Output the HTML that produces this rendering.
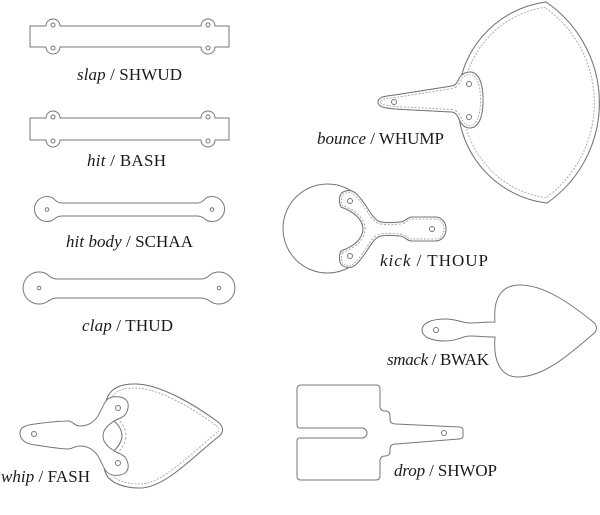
<!DOCTYPE html>
<html><head><meta charset="utf-8"><style>
html,body{margin:0;padding:0;background:#fff;}
svg{display:block;}
text{font-family:"Liberation Serif",serif;font-size:17px;fill:#1a1a1a;}
.i{font-style:italic;}
</style></head><body>
<svg width="600" height="515" viewBox="0 0 600 515" xmlns="http://www.w3.org/2000/svg" xmlns:xlink="http://www.w3.org/1999/xlink">
<defs>
<path id="fan" d="M546,2 A122,122 0 0 1 547,203 A101.3,101.3 0 0 1 546,2 Z"/>
<path id="bh" d="M378,102 C378,97 385,96 395,95 L452,86 C457,85 458,80 460,77 C462,74 466,72 470,72 C477,72 483,80 483,100 C483,120 477,128 470,128 C465,128 462,125 460,121 C458,117 457,113 452,112 L395,109 C385,108 378,107 378,102 Z"/>
<path id="kf" d="M341,207 C339,203 339,197 341,194 C343,191 348,190 352,191 C357,193 360,198 364,203 C369,210 372,217 378,221 C382,223 390,223 400,222 C405,222 406,218 412,217 L435,217 C442,217 446,223 446,229 C446,235 442,241 435,241 L412,241 C406,241 405,236 400,236 C390,235 382,235 378,237 C372,241 369,248 364,255 C360,260 357,265 352,267 C348,268 343,267 341,264 C339,261 339,255 341,251 C355,246 363,238 363,229 C363,220 355,212 341,207 Z"/>
<path id="wh" d="M113,420 C106,412 104,404 108,396 C113,387 122,384 135,384 C160,384 195,405 218,422 C224,427 224,433 218,437 C195,455 165,488 140,488 C122,488 110,482 106,474 C102,466 106,458 113,452 C119,446 122,440 122,436 C122,430 119,425 113,420 Z"/>
<clipPath id="cfan"><use href="#fan" xlink:href="#fan"/></clipPath>
<clipPath id="cbh"><use href="#bh" xlink:href="#bh"/></clipPath>
<clipPath id="ckf"><use href="#kf" xlink:href="#kf"/></clipPath>
<clipPath id="cwh"><use href="#wh" xlink:href="#wh"/></clipPath>
</defs>

<g fill="#fff" stroke="#777" stroke-width="1" stroke-linejoin="round">
<!-- slap -->
<path d="M30,26 H46 A7,7 0 0 1 60,26 H201 A7,7 0 0 1 215,26 H229 V47 H215 A7,7 0 0 1 201,47 H60 A7,7 0 0 1 46,47 H30 Z"/>
<circle cx="53" cy="25" r="2"/><circle cx="53" cy="48" r="2"/><circle cx="208" cy="25" r="2"/><circle cx="208" cy="48" r="2"/>
<!-- hit -->
<path d="M30,118 H46 A7,7 0 0 1 60,118 H201 A7,7 0 0 1 215,118 H229 V140 H215 A7,7 0 0 1 201,140 H60 A7,7 0 0 1 46,140 H30 Z"/>
<circle cx="53" cy="117" r="2"/><circle cx="53" cy="141" r="2"/><circle cx="208" cy="117" r="2"/><circle cx="208" cy="141" r="2"/>
<!-- hit body -->
<path d="M62,203 H197 Q202,203 205.75,198.2 A12.5,12.5 0 1 1 205.75,219.8 Q202,216 197,216 H62 Q57,216 53.25,219.8 A12.5,12.5 0 1 1 53.25,198.2 Q57,203 62,203 Z"/>
<circle cx="47" cy="209.5" r="1.8"/><circle cx="212" cy="209.5" r="1.8"/>
<!-- clap -->
<path d="M57,279 H201 Q206,279 211,274.1 A16,16 0 1 1 211,301.9 Q206,298 201,298 H57 Q52,298 47,301.9 A16,16 0 1 1 47,274.1 Q52,279 57,279 Z"/>
<circle cx="39" cy="288" r="1.8"/><circle cx="219" cy="288" r="1.8"/>

<!-- bounce -->
<use href="#fan" xlink:href="#fan"/>
<g clip-path="url(#cfan)" fill="none"><use href="#fan" xlink:href="#fan" stroke="#aaa" stroke-width="11" stroke-dasharray="2 1.6"/><use href="#fan" xlink:href="#fan" stroke="#fff" stroke-width="9"/></g>
<use href="#fan" xlink:href="#fan" fill="none"/>
<use href="#bh" xlink:href="#bh"/>
<g clip-path="url(#cbh)" fill="none"><use href="#bh" xlink:href="#bh" stroke="#aaa" stroke-width="6" stroke-dasharray="2 1.6"/><use href="#bh" xlink:href="#bh" stroke="#fff" stroke-width="4"/></g>
<use href="#bh" xlink:href="#bh" fill="none"/>
<circle cx="394" cy="102" r="2.5"/><circle cx="469" cy="84" r="2.5"/><circle cx="469" cy="117" r="2.5"/>

<!-- kick -->
<circle cx="327.5" cy="228.5" r="44.5"/>
<use href="#kf" xlink:href="#kf"/>
<g clip-path="url(#ckf)" fill="none"><use href="#kf" xlink:href="#kf" stroke="#aaa" stroke-width="5" stroke-dasharray="2 1.6"/><use href="#kf" xlink:href="#kf" stroke="#fff" stroke-width="3"/></g>
<use href="#kf" xlink:href="#kf" fill="none"/>
<circle cx="350" cy="201" r="2.5"/><circle cx="350" cy="256" r="2.5"/><circle cx="432" cy="229" r="2.5"/>

<!-- smack -->
<path d="M495,322 C493,300 500,285 520,285 C545,285 572,305 592,321 C598,325 598,331 592,335 C572,352 545,377 518,377 C500,377 493,360 495,337 C485,337 478,336 470,336 C462,336 458,341 445,341 C430,341 422,336 422,330 C422,324 430,319 445,319 C458,319 462,323 470,323 C478,323 485,322 495,322 Z"/>
<circle cx="436" cy="330" r="2.5"/>

<!-- whip -->
<use href="#wh" xlink:href="#wh"/>
<g clip-path="url(#cwh)" fill="none"><use href="#wh" xlink:href="#wh" stroke="#aaa" stroke-width="9" stroke-dasharray="2 1.6"/><use href="#wh" xlink:href="#wh" stroke="#fff" stroke-width="7"/></g>
<use href="#wh" xlink:href="#wh" fill="none"/>
<path d="M20,433 C20,427 26,425 35,424 C50,422 62,421 68,421 C73,421 74,426 80,426 C88,426 94,422 98,416 C101,411 103,405 106,401 C109,397 114,396 120,397 C126,398 129,402 128,408 C127,414 124,417 118,419 C108,424 103,430 103,436 C103,442 108,448 118,453 C124,455 127,458 128,464 C129,470 126,474 120,475 C114,476 109,475 106,471 C103,467 101,461 98,456 C94,450 88,446 80,446 C74,446 73,449 68,449 C62,449 50,447 35,445 C26,444 20,440 20,433 Z"/>
<circle cx="34" cy="434" r="2.5"/><circle cx="118" cy="408" r="2.5"/><circle cx="118" cy="463" r="2.5"/>

<!-- drop -->
<path d="M301,385 H376 Q380,385 380,389 V406 Q380,411 385,411 Q390,411 390,416 V419 Q390,424 396,424 L459,427 Q463,427 463,430 V436 Q463,439 459,439 L396,444 Q390,444 390,449 V451 Q390,456 385,456 Q380,456 380,461 V476 Q380,480 376,480 H301 Q297,480 297,476 V441 Q297,438 300,438 H362 A5,5 0 0 0 362,428 H300 Q297,428 297,425 V389 Q297,385 301,385 Z"/>
<circle cx="444" cy="433" r="2.5"/>
</g>

<text x="77" y="80" textLength="105"><tspan class="i">slap</tspan> / SHWUD</text>
<text x="87" y="166" textLength="79"><tspan class="i">hit</tspan> / BASH</text>
<text x="66" y="247" textLength="127"><tspan class="i">hit body</tspan> / SCHAA</text>
<text x="82" y="331" textLength="91"><tspan class="i">clap</tspan> / THUD</text>
<text x="1" y="482" textLength="89"><tspan class="i">whip</tspan> / FASH</text>
<text x="317" y="144" textLength="127"><tspan class="i">bounce</tspan> / WHUMP</text>
<text x="380" y="266" textLength="108"><tspan class="i">kick</tspan> / THOUP</text>
<text x="387" y="365" textLength="102"><tspan class="i">smack</tspan> / BWAK</text>
<text x="394" y="476" textLength="103"><tspan class="i">drop</tspan> / SHWOP</text>
</svg>
</body></html>
